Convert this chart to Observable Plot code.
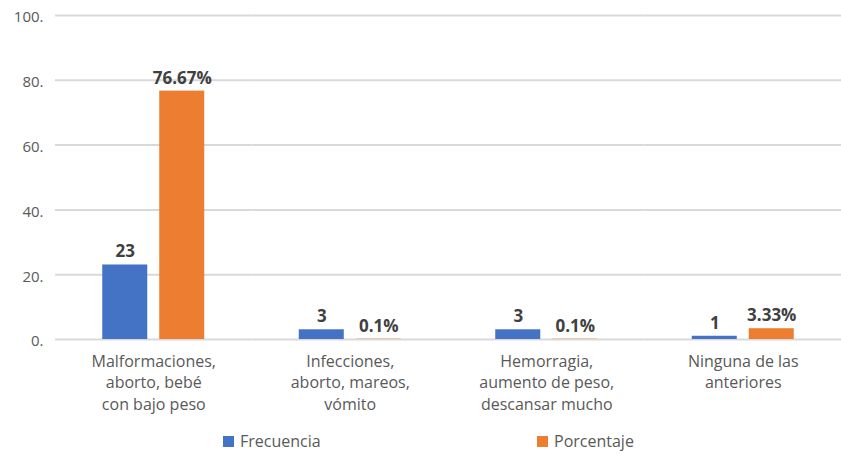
<!DOCTYPE html>
<html>
<head>
<meta charset="utf-8">
<script src="https://cdn.jsdelivr.net/npm/d3@7"></script>
<script src="https://cdn.jsdelivr.net/npm/@observablehq/plot@0.6"></script>
<style>
  body { margin: 0; background: #fff; font-family: "Open Sans", sans-serif; }
  #wrap { position: relative; width: 841px; height: 454px; }
  #legend { position: absolute; top: 430px; left: 0; width: 841px; height: 22px; font-size: 16px; color: #595959; }
  .item { position: absolute; display: flex; align-items: center; }
  .sw { width: 11px; height: 11px; margin-right: 6px; }
</style>
</head>
<body>
<div id="wrap">
  <div id="chart"></div>
  <div id="legend"></div>
</div>
<script>
const categories = [
  "Malformaciones,\naborto, bebé\ncon bajo peso",
  "Infecciones,\naborto, mareos,\nvómito",
  "Hemorragia,\naumento de peso,\ndescansar mucho",
  "Ninguna de las\nanteriores"
];
const series = ["Frecuencia", "Porcentaje"];
const frecuencia = [23, 3, 3, 1];
const porcentaje = [76.67, 0.1, 0.1, 3.33];
const frecuenciaLabels = ["23", "3", "3", "1"];
const porcentajeLabels = ["76.67%", "0.1%", "0.1%", "3.33%"];
const yTicks = [0, 20, 40, 60, 80, 100];
const colors = ["#4472c4", "#ed7d31"];

const data = [];
categories.forEach((c, i) => {
  data.push({cat: c, serie: series[0], value: frecuencia[i], label: frecuenciaLabels[i]});
  data.push({cat: c, serie: series[1], value: porcentaje[i], label: porcentajeLabels[i]});
});

const chart = Plot.plot({
  width: 841,
  height: 420,
  marginTop: 15,
  marginBottom: 81,
  marginLeft: 55,
  marginRight: 0,
  style: {fontFamily: "'Open Sans', sans-serif", fontSize: "15px", color: "#595959", background: "#fff"},
  fx: {domain: categories, padding: 0, axis: null, round: false},
  x: {domain: series, paddingInner: 0.21, paddingOuter: 0.829, axis: null, round: false},
  y: {domain: [0, 100], axis: null},
  color: {domain: series, range: colors},
  marks: [
    Plot.ruleY(yTicks, {stroke: "#d9d9d9", strokeWidth: 2}),
    Plot.barY(data, {fx: "cat", x: "serie", y: "value", fill: "serie"}),
    Plot.text(data, {fx: "cat", x: "serie", y: "value", text: "label", dy: -13, fontWeight: "bold", fill: "#404040", fontSize: 17}),
    Plot.axisY({ticks: yTicks, tickFormat: d => d + ".", tickSize: 0, tickPadding: 12, dy: 2, fill: "#595959", fontSize: 15, label: null}),
    Plot.axisFx({anchor: "bottom", tickSize: 0, tickPadding: 12, lineHeight: 1.34, fill: "#595959", fontSize: 16, label: null})
  ]
});
document.getElementById("chart").appendChild(chart);

const legendLefts = [223, 537];
const legend = document.getElementById("legend");
series.forEach((s, i) => {
  const it = document.createElement("div");
  it.className = "item";
  it.style.left = legendLefts[i] + "px";
  it.innerHTML = `<div class="sw" style="background:${colors[i]}"></div><span>${s}</span>`;
  legend.appendChild(it);
});
</script>
</body>
</html>
